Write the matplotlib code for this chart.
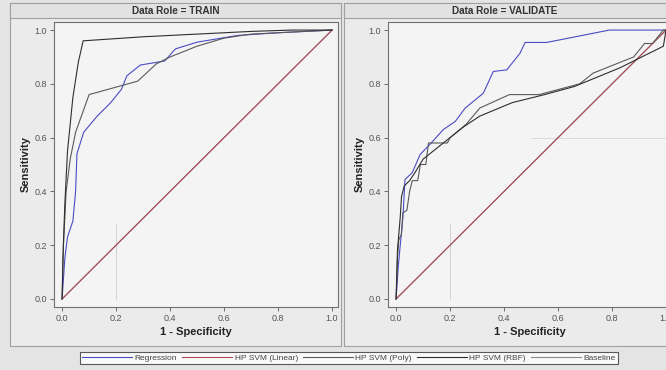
import matplotlib.pyplot as plt
from matplotlib.patches import Rectangle

plt.rcParams['font.family'] = ['Liberation Sans', 'DejaVu Sans']

# ROC points: (1 - specificity, sensitivity)
train_reg_x = [0, 0.01, 0.02, 0.04, 0.05, 0.055, 0.08, 0.13, 0.18, 0.22, 0.24, 0.29, 0.38, 0.42, 0.5, 0.65, 0.8, 1.0]
train_reg_y = [0, 0.15, 0.23, 0.29, 0.40, 0.54, 0.62, 0.68, 0.73, 0.78, 0.83, 0.87, 0.885, 0.93, 0.955, 0.98, 0.99, 1.0]
train_lin_x = [0, 1.0]
train_lin_y = [0, 1.0]
train_poly_x = [0, 0.005, 0.015, 0.03, 0.05, 0.1, 0.28, 0.35, 0.4, 0.5, 0.6, 0.7, 0.8, 1.0]
train_poly_y = [0, 0.2, 0.4, 0.52, 0.62, 0.76, 0.81, 0.875, 0.9, 0.94, 0.97, 0.985, 0.99, 1.0]
train_rbf_x = [0, 0.003, 0.01, 0.02, 0.04, 0.06, 0.078, 0.3, 0.5, 0.7, 0.85, 1.0]
train_rbf_y = [0, 0.15, 0.35, 0.55, 0.75, 0.88, 0.96, 0.975, 0.985, 0.995, 1.0, 1.0]

val_reg_x = [0, 0.008, 0.015, 0.025, 0.033, 0.06, 0.089, 0.13, 0.175, 0.219, 0.256, 0.323, 0.36, 0.41, 0.459, 0.478, 0.558, 0.79, 1.0]
val_reg_y = [0, 0.12, 0.196, 0.3, 0.444, 0.47, 0.537, 0.58, 0.63, 0.66, 0.71, 0.765, 0.846, 0.852, 0.914, 0.954, 0.954, 1.0, 1.0]
val_lin_x = [0, 1.0]
val_lin_y = [0, 1.0]
val_poly_x = [0, 0.005, 0.01, 0.02, 0.025, 0.04, 0.05, 0.06, 0.08, 0.09, 0.11, 0.12, 0.19, 0.2, 0.26, 0.31, 0.42, 0.53, 0.68, 0.73, 0.88, 0.92, 0.95, 0.99, 1.0]
val_poly_y = [0, 0.15, 0.22, 0.24, 0.32, 0.33, 0.4, 0.44, 0.44, 0.5, 0.5, 0.58, 0.58, 0.6, 0.65, 0.71, 0.76, 0.76, 0.80, 0.84, 0.9, 0.95, 0.95, 1.0, 1.0]
val_rbf_x = [0, 0.005, 0.015, 0.02, 0.03, 0.05, 0.07, 0.1, 0.15, 0.2, 0.25, 0.31, 0.43, 0.55, 0.66, 0.83, 0.99, 1.0]
val_rbf_y = [0, 0.18, 0.3, 0.38, 0.42, 0.44, 0.47, 0.52, 0.56, 0.6, 0.64, 0.68, 0.73, 0.76, 0.79, 0.86, 0.94, 1.0]

base_x = [0, 1.0]
base_y = [0, 1.0]

labels = ['Regression', 'HP SVM (Linear)', 'HP SVM (Poly)', 'HP SVM (RBF)', 'Baseline']
colors = ['#4b4bc4', '#b04a58', '#5a5a5a', '#2e2e2e', '#8a8a8a']
ticks = [0.0, 0.2, 0.4, 0.6, 0.8, 1.0]

panels = [
    ('Data Role = TRAIN', 54,
     [(train_reg_x, train_reg_y), (train_lin_x, train_lin_y), (train_poly_x, train_poly_y),
      (train_rbf_x, train_rbf_y), (base_x, base_y)]),
    ('Data Role = VALIDATE', 388,
     [(val_reg_x, val_reg_y), (val_lin_x, val_lin_y), (val_poly_x, val_poly_y),
      (val_rbf_x, val_rbf_y), (base_x, base_y)]),
]

W, H = 666, 370
fig = plt.figure(figsize=(W / 100, H / 100), dpi=100)
fig.patch.set_facecolor('#e4e4e4')

def box(x0, y0, x1, y1, fc, ec='#a0a0a0', lw=0.8):
    # rectangle in pixel coords (y from top)
    fig.patches.append(Rectangle((x0 / W, 1 - y1 / H), (x1 - x0) / W, (y1 - y0) / H,
                                 transform=fig.transFigure, facecolor=fc, edgecolor=ec,
                                 linewidth=lw, zorder=-5))

# panel frames and header strips
box(10, 3, 341, 346, '#ebebeb')
box(10, 3, 341, 18, '#e2e2e2')
box(344, 3, 680, 346, '#ebebeb')
box(344, 3, 680, 18, '#e2e2e2')
fig.text(176 / W, 1 - 11 / H, 'Data Role = TRAIN', ha='center', va='center', fontsize=7.2,
         fontweight='bold', color='#333333')
fig.text(505 / W, 1 - 11 / H, 'Data Role = VALIDATE', ha='center', va='center', fontsize=7.2,
         fontweight='bold', color='#333333')

handles = []
for title, left, series in panels:
    ax = fig.add_axes([left / W, (H - 307) / H, 284 / W, 285 / H])
    ax.set_zorder(5)
    ax.set_facecolor('#f4f4f4')
    ax.set_xlim(-0.03, 1.022)
    ax.set_ylim(-0.03, 1.03)
    # faint reference lines seen in the chart
    ax.plot([0.2, 0.2], [0, 0.28], color='#d2d2d2', lw=0.7, zorder=1)
    if left > 100:
        ax.plot([0.5, 1.0], [0.6, 0.6], color='#dcdcdc', lw=0.7, zorder=1)
    hs = []
    for (xs, ys), c, lab in zip(series, colors, labels):
        ls = ax.plot(xs, ys, color=c, lw=0.8, label=lab, zorder=3 if lab != 'Baseline' else 2)
        hs.append(ls[0])
    handles = hs
    ax.set_xticks(ticks)
    ax.set_yticks(ticks)
    ax.set_xticklabels([f'{t:.1f}' for t in ticks])
    ax.set_yticklabels([f'{t:.1f}' for t in ticks])
    ax.tick_params(labelsize=6.5, colors='#555555', length=3, width=0.6, pad=2)
    for s in ax.spines.values():
        s.set_color('#707070')
        s.set_linewidth(0.8)
    ax.set_xlabel('1 - Specificity', fontsize=8, fontweight='bold', color='#222222', labelpad=3)
    ax.set_ylabel('Sensitivity', fontsize=8, fontweight='bold', color='#222222', labelpad=3)

leg = fig.legend(handles, labels, ncol=5, loc='center', bbox_to_anchor=(349 / W, 1 - 358 / H),
                 fontsize=6, frameon=True, fancybox=False, edgecolor='#333333',
                 handlelength=6, handletextpad=0.3, columnspacing=0.6, borderpad=0.25,
                 labelcolor='#444444')
leg.get_frame().set_linewidth(0.8)
leg.get_frame().set_facecolor('white')

fig.savefig('out.png', dpi=100, facecolor=fig.get_facecolor())
